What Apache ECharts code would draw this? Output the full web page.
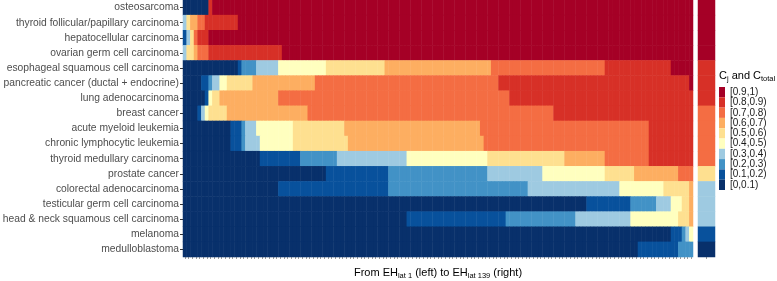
<!DOCTYPE html>
<html><head><meta charset="utf-8">
<script src="https://cdn.jsdelivr.net/npm/echarts@6/dist/echarts.min.js"></script>
<style>html,body{margin:0;padding:0;background:#fff}#c{width:777px;height:281px}</style>
</head><body><div id="c"></div>
<script>
// ---- data ----
const categories = [
  'osteosarcoma',
  'thyroid follicular/papillary carcinoma',
  'hepatocellular carcinoma',
  'ovarian germ cell carcinoma',
  'esophageal squamous cell carcinoma',
  'pancreatic cancer (ductal + endocrine)',
  'lung adenocarcinoma',
  'breast cancer',
  'acute myeloid leukemia',
  'chronic lymphocytic leukemia',
  'thyroid medullary carcinoma',
  'prostate cancer',
  'colorectal adenocarcinoma',
  'testicular germ cell carcinoma',
  'head & neck squamous cell carcinoma',
  'melanoma',
  'medulloblastoma'
];
const columnCount = 139;
const classLabels = ['[0,0.1)','[0.1,0.2)','[0.2,0.3)','[0.3,0.4)','[0.4,0.5)','[0.5,0.6)','[0.6,0.7)','[0.7,0.8)','[0.8,0.9)','[0.9,1)'];
const classColors = ['#08306b','#08519c','#4292c6','#9ecae1','#ffffbf','#fee090','#fdae61','#f46d43','#d73027','#a50026'];
// per row: runs of [class index, last column of run (1-based)]
const rowRuns = [
  [[0,7],[8,8],[9,139]],
  [[3,1],[5,2],[6,4],[7,6],[8,15],[9,139]],
  [[1,1],[3,2],[5,3],[7,4],[8,7],[9,139]],
  [[3,1],[5,3],[6,4],[7,7],[8,27],[9,139]],
  [[0,15],[1,16],[2,20],[3,26],[4,39],[5,55],[6,84],[7,115],[8,133],[9,139]],
  [[0,5],[1,7],[2,8],[3,10],[4,12],[5,19],[6,36],[7,86],[8,138],[9,139]],
  [[0,6],[1,7],[4,8],[5,10],[6,26],[7,89],[8,139]],
  [[0,4],[1,5],[3,6],[4,7],[5,12],[6,34],[7,101],[8,139]],
  [[0,13],[1,16],[2,17],[3,20],[4,30],[5,44],[6,81],[7,127],[8,139]],
  [[0,13],[1,16],[2,17],[3,21],[4,30],[5,45],[6,82],[7,127],[8,139]],
  [[0,21],[1,32],[2,42],[3,61],[4,83],[5,104],[6,115],[7,127],[8,139]],
  [[0,39],[1,56],[2,83],[3,98],[4,115],[5,123],[6,135],[7,139]],
  [[0,26],[1,56],[2,94],[3,119],[4,131],[5,138],[6,139]],
  [[0,110],[1,122],[2,129],[3,133],[4,136],[5,138],[6,139]],
  [[0,61],[1,88],[2,107],[3,122],[4,135],[5,138],[6,139]],
  [[0,133],[1,136],[2,137],[3,138],[4,139]],
  [[0,124],[1,135],[2,139]]
];
// C_total class per row
const totalClasses = [9,9,9,9,8,8,8,7,7,7,7,5,3,3,3,1,0];

// ---- build ----
const FONT = 'Liberation Sans, Arial, Helvetica, sans-serif';
const colNames = [];
for (let i = 1; i <= columnCount; i++) colNames.push('EH' + i);
const mainData = [];
rowRuns.forEach((runs, r) => {
  let start = 1;
  runs.forEach(([cls, end]) => {
    for (let c = start; c <= end; c++) mainData.push([c - 1, r, (cls + 0.5) / 10]);
    start = end + 1;
  });
});
const totalData = totalClasses.map((cls, r) => [0, r, (cls + 0.5) / 10]);
const pieces = [];
for (let k = 9; k >= 0; k--) pieces.push({gte: k / 10, lt: (k + 1) / 10, label: classLabels[k], color: classColors[k]});

const chart = echarts.init(document.getElementById('c'), null, {renderer: 'canvas'});
chart.setOption({
  animation: false,
  backgroundColor: '#fff',
  textStyle: {fontFamily: FONT},
  grid: [
    {left: 183, top: 0, width: 510, height: 257, containLabel: false, outerBoundsMode: 'none'},
    {left: 698, top: 0, width: 17, height: 257, containLabel: false, outerBoundsMode: 'none'}
  ],
  xAxis: [
    {type: 'category', gridIndex: 0, data: colNames, position: 'bottom',
     axisLine: {show: false}, axisLabel: {show: false}, splitLine: {show: false},
     axisTick: {show: true, interval: 0, alignWithLabel: true, length: 2, lineStyle: {color: '#555', width: 0.6}}},
    {type: 'category', gridIndex: 1, data: ['total'], position: 'bottom',
     axisLine: {show: false}, axisLabel: {show: false}, splitLine: {show: false},
     axisTick: {show: true, interval: 0, alignWithLabel: true, length: 2, lineStyle: {color: '#555', width: 0.6}}}
  ],
  yAxis: [
    {type: 'category', gridIndex: 0, data: categories, inverse: true,
     axisLine: {show: false}, splitLine: {show: false},
     axisTick: {show: true, length: 3, alignWithLabel: true, lineStyle: {color: '#333'}},
     axisLabel: {fontSize: 10.3, color: '#4d4d4d', margin: 4, fontFamily: FONT}},
    {type: 'category', gridIndex: 1, data: categories, inverse: true,
     axisLine: {show: false}, axisTick: {show: false}, axisLabel: {show: false}, splitLine: {show: false}}
  ],
  visualMap: {
    type: 'piecewise', pieces: pieces, orient: 'vertical', align: 'left',
    left: 719, top: 87, padding: 0, itemWidth: 6, itemHeight: 10.3, itemGap: 0,
    itemSymbol: 'rect', textGap: 5, selectedMode: false, hoverLink: false,
    seriesIndex: [0, 1],
    textStyle: {fontSize: 10, color: '#1a1a1a', fontFamily: FONT}
  },
  graphic: [
    {type: 'text', x: 438, y: 273, style: {
      text: '{n|From EH}{s|lat 1}{n| (left) to EH}{s|lat 139}{n| (right)}',
      align: 'center', verticalAlign: 'middle',
      rich: {
        n: {fontSize: 11, fill: '#000', fontFamily: FONT, lineHeight: 14},
        s: {fontSize: 7.5, fill: '#000', fontFamily: FONT, lineHeight: 7, verticalAlign: 'bottom'}
      }}},
    {type: 'text', x: 719, y: 76, style: {
      text: '{n|C}{s|j}{n| and C}{s|total}',
      align: 'left', verticalAlign: 'middle',
      rich: {
        n: {fontSize: 11, fill: '#000', fontFamily: FONT, lineHeight: 14},
        s: {fontSize: 7.5, fill: '#000', fontFamily: FONT, lineHeight: 7, verticalAlign: 'bottom'}
      }}}
  ],
  series: [
    {type: 'heatmap', xAxisIndex: 0, yAxisIndex: 0, data: mainData, progressive: 0, emphasis: {disabled: true}},
    {type: 'heatmap', xAxisIndex: 1, yAxisIndex: 1, data: totalData, progressive: 0, emphasis: {disabled: true}}
  ]
});
</script>
</body></html>
